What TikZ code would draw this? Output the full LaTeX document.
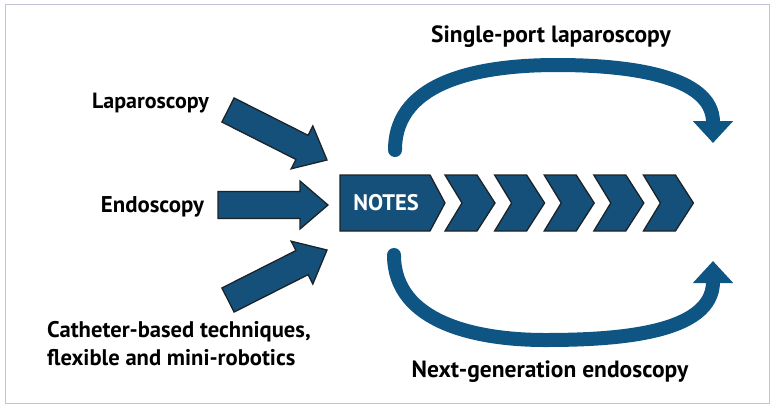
\documentclass[tikz,border=0pt]{standalone}
\usepackage{fontspec}
\setmainfont{PT Sans}
\usetikzlibrary{calc,arrows.meta}
\definecolor{notesblue}{HTML}{14507A}
\definecolor{arcblue}{HTML}{0E5583}
\definecolor{edgedark}{HTML}{1C2328}
\definecolor{framegray}{HTML}{C9C1D2}
\tikzset{
  lbl/.style={font=\bfseries\fontsize{22}{27.5}\selectfont, text=black, inner sep=0pt},
  lblbig/.style={lbl, font=\bfseries\fontsize{23.5}{28}\selectfont},
  blockfill/.style={fill=notesblue, draw=edgedark, line width=1.3pt, line join=miter},
  arcline/.style={draw=arcblue, line width=14pt, line cap=round,
    -{Triangle[width=39pt,length=22pt]}},
}
\newcommand{\blockarrow}[3]{%
  % #1 name prefix, #2 tail, #3 tip
  \coordinate (#1h) at ($(#3)!28pt!(#2)$);
  \path[blockfill]
    ($(#2)!13.5pt!90:(#3)$) -- ($(#1h)!13.5pt!-90:(#2)$) -- ($(#1h)!24pt!-90:(#2)$)
    -- (#3) -- ($(#1h)!24pt!90:(#2)$) -- ($(#1h)!13.5pt!90:(#2)$)
    -- ($(#2)!13.5pt!-90:(#3)$) -- cycle;
}
\begin{document}
\begin{tikzpicture}[x=1pt,y=-1pt]
\useasboundingbox (0,0) rectangle (775,410);
\draw[framegray, line width=1pt] (5,4) rectangle (769,403);

% labels
\node[lbl, anchor=base] (lap) at (150.5,108) {Laparoscopy};
\node[lbl, anchor=base, font=\bfseries\fontsize{22.8}{27.5}\selectfont] (endo) at (152.5,212) {Endoscopy};
\node[lbl, anchor=base west, align=left, font=\bfseries\fontsize{22.6}{28}\selectfont] (cath) at (47,365) {Catheter-based techniques,\\flexible and mini-robotics};
\node[lblbig, anchor=base] (spl) at (551,42) {Single-port laparoscopy};
\node[lblbig, anchor=base] (nge) at (550,377) {Next-generation endoscopy};

% block arrows into NOTES
\coordinate (t1) at (228,110); \coordinate (p1) at (327,160);
\coordinate (t2) at (218,205); \coordinate (p2) at (328,205);
\coordinate (t3) at (228,300); \coordinate (p3) at (327,250);
\blockarrow{a}{t1}{p1}
\blockarrow{b}{t2}{p2}
\blockarrow{c}{t3}{p3}

% NOTES pentagon
\path[blockfill] (340,175) -- (430,175) -- (445,203) -- (430,231) -- (340,231) -- cycle;
\node[font=\bfseries\fontsize{22.5}{24}\selectfont, text=white, inner sep=0pt] (notes) at (386,203) {NOTES};

% chevrons
\foreach \i in {0,...,4}{
  \pgfmathsetmacro{\s}{445+49.6*\i}
  \path[blockfill] (\s,175) -- (\s+32,175) -- (\s+50,203) -- (\s+32,231)
    -- (\s,231) -- (\s+17,203) -- cycle;
}

% curved arrows
\coordinate (us) at (395,150);
\coordinate (um) at (557,65);
\coordinate (ue) at (713,143);
\coordinate (ls) at (394,255);
\coordinate (lm) at (545,340);
\coordinate (le) at (713,261);
\draw[arcline] (us) to[out=90,in=180] (um) to[out=0,in=90] (ue);
\draw[arcline] (ls) to[out=-90,in=180] (lm) to[out=0,in=-90] (le);
\end{tikzpicture}
\end{document}
